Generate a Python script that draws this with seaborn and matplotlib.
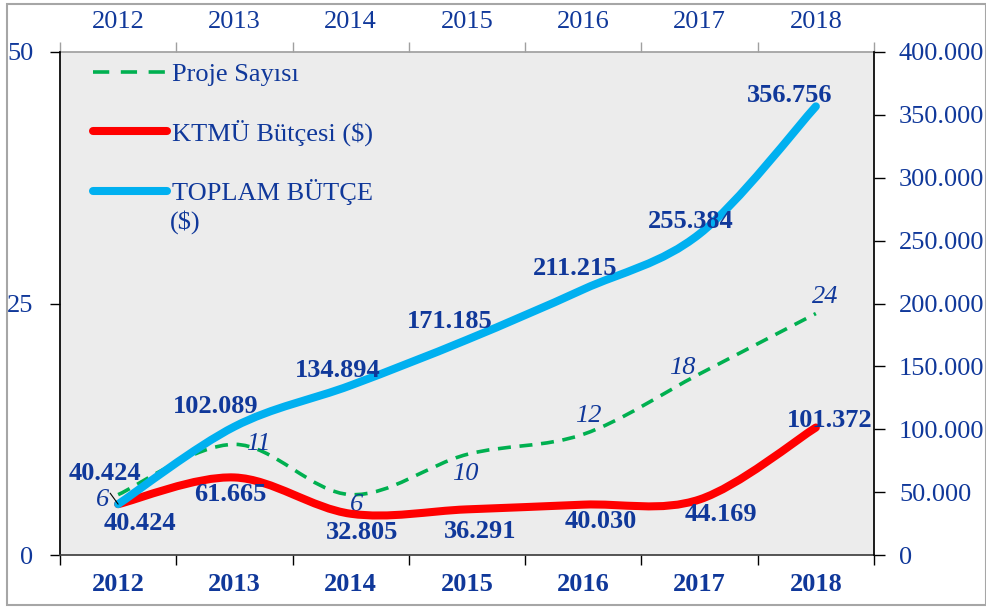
import numpy as np
import pandas as pd
import seaborn as sns
import matplotlib.pyplot as plt
from matplotlib.path import Path
from matplotlib.patches import PathPatch, Rectangle
from matplotlib.lines import Line2D
from matplotlib.ticker import FuncFormatter

# values
years = ["2012", "2013", "2014", "2015", "2016", "2017", "2018"]
proje_sayisi = [6, 11, 6, 10, 12, 18, 24]
ktmu_butcesi = [40424, 61665, 32805, 36291, 40030, 44169, 101372]
toplam_butce = [40424, 102089, 134894, 171185, 211215, 255384, 356756]

df = pd.DataFrame({"x": range(len(years)), "Yil": years, "Proje": proje_sayisi,
                   "KTMU": ktmu_butcesi, "Toplam": toplam_butce})

navy = "#10389A"
green = "#00B050"
red = "#FF0000"
cyan = "#00B0F0"

sns.set_theme(style="ticks")
plt.rcParams["font.family"] = ["Liberation Serif", "DejaVu Serif"]
plt.rcParams["font.size"] = 19


def fmt(v, pos=None):
    return f"{int(v):,}".replace(",", ".")


def smooth_path(xs, ys):
    # excel-like smoothed line: cubic bezier segments through the points
    pts = np.column_stack([xs, ys]).astype(float)
    n = len(pts)
    verts = [pts[0]]
    codes = [Path.MOVETO]
    for i in range(n - 1):
        p0 = pts[i - 1] if i > 0 else pts[i]
        p1, p2 = pts[i], pts[i + 1]
        p3 = pts[i + 2] if i + 2 < n else pts[i + 1]
        verts += [p1 + (p2 - p0) / 6, p2 - (p3 - p1) / 6, p2]
        codes += [Path.CURVE4] * 3
    return Path(verts, codes)


fig = plt.figure(figsize=(9.87, 6.07), dpi=100)
fig.patch.set_facecolor("white")
ax = fig.add_axes([60 / 987, 52 / 607, 814 / 987, 503 / 607])
ax.set_facecolor("#ECECEC")
ax2 = ax.twinx()

# lines
ax.add_patch(PathPatch(smooth_path(df.x, df.Proje), fill=False, edgecolor=green,
                       lw=2.6, linestyle=(0, (3.6, 2.4)), capstyle="butt"))
ax2.add_patch(PathPatch(smooth_path(df.x, df.KTMU), fill=False, edgecolor=red,
                        lw=5.8, capstyle="round", joinstyle="round"))
ax2.add_patch(PathPatch(smooth_path(df.x, df.Toplam), fill=False, edgecolor=cyan,
                        lw=5.8, capstyle="round", joinstyle="round"))

ax.set_xlim(-0.5, 6.5)
ax.set_ylim(0, 50)
ax2.set_ylim(0, 400000)

# data labels (pixel offsets)
toplam_off = [(-13, 31), (-19, 20), (-13, 15), (-17, 18), (-8, 21), (-9, 12), (-26, 11)]
ktmu_off = [(22, -19), (-4, -17), (11, -19), (13, -22), (17, -17), (21, -15), (14, 7)]
proje_off = [(-16, -5), (24, 0), (6, -10), (-2, -20), (5, 18), (-17, 6), (9, 17)]

for i in range(len(years)):
    ax2.annotate(fmt(toplam_butce[i]), (i, toplam_butce[i]), xytext=toplam_off[i],
                 textcoords="offset pixels", ha="center", va="center",
                 fontweight="bold", color=navy, fontsize=19, zorder=10)
    ax2.annotate(fmt(ktmu_butcesi[i]), (i, ktmu_butcesi[i]), xytext=ktmu_off[i],
                 textcoords="offset pixels", ha="center", va="center",
                 fontweight="bold", color=navy, fontsize=19, zorder=10)
    ax.annotate(str(proje_sayisi[i]), (i, proje_sayisi[i]), xytext=proje_off[i],
                textcoords="offset pixels", ha="center", va="center",
                fontstyle="italic", color=navy, fontsize=19)

# small leader line at 2012
ax2.annotate("", (0, toplam_butce[0]), xytext=(-8, 11), textcoords="offset pixels",
             arrowprops=dict(arrowstyle="-", color="black", lw=0.8,
                             shrinkA=0, shrinkB=0))

# x axis: ticks at boundaries, labels at centers
ax.set_xticks(np.arange(-0.5, 7, 1))
ax.set_xticklabels([])
ax.set_xticks(range(7), minor=True)
ax.set_xticklabels(years, minor=True, fontweight="bold")
ax.tick_params(axis="x", which="major", direction="out", length=7, width=1, color="black")
ax.tick_params(axis="x", which="minor", length=0, pad=13, labelcolor=navy, labelsize=19)

top = ax.secondary_xaxis("top")
top.set_xticks(np.arange(-0.5, 7, 1))
top.set_xticklabels([])
top.set_xticks(range(7), minor=True)
top.set_xticklabels(years, minor=True)
top.tick_params(axis="x", which="major", direction="out", length=7, width=1, color="#A0A0A0")
top.tick_params(axis="x", which="minor", length=0, pad=14, labelcolor=navy, labelsize=19)
top.spines["top"].set_color("#A0A0A0")

ax.set_yticks([0, 25, 50])
ax.tick_params(axis="y", direction="out", length=7, width=1, color="black",
               labelcolor=navy, labelsize=19, pad=12)
ax2.set_yticks(np.arange(0, 400001, 50000))
ax2.yaxis.set_major_formatter(FuncFormatter(fmt))
ax2.tick_params(axis="y", direction="out", length=8, width=1, color="black",
                labelcolor=navy, labelsize=19, pad=10)

for a in (ax, ax2):
    a.spines["top"].set_visible(False)
ax.spines["left"].set_color("black")
ax.spines["bottom"].set_color("#404040")
ax.spines["right"].set_visible(False)
ax2.spines["left"].set_visible(False)
ax2.spines["bottom"].set_visible(False)
ax2.spines["right"].set_color("black")

# legend
handles = [Line2D([], [], color=green, lw=2.6, linestyle=(0, (4.5, 3.2))),
           Line2D([], [], color=red, lw=5.8, solid_capstyle="round"),
           Line2D([], [], color=cyan, lw=5.8, solid_capstyle="round")]
labels = ["Proje Sayısı", "KTMÜ Bütçesi ($)", "TOPLAM BÜTÇE"]
leg = ax2.legend(handles, labels, loc="upper left", bbox_to_anchor=(33 / 814, 1 - 11 / 503),
                 frameon=False, borderpad=0, borderaxespad=0, handlelength=2.8,
                 handletextpad=0.2, labelspacing=1.25, fontsize=19)
for t in leg.get_texts():
    t.set_color(navy)
ax2.text(170, 607 - 222, "($)", transform=None, color=navy, fontsize=19, va="center")

fig.patches.append(Rectangle((7 / 987, 2 / 607), 979 / 987, 601 / 607, transform=fig.transFigure,
                             fill=False, edgecolor="#A6A6A6", lw=1.5))

fig.savefig("out.png", dpi=100)
